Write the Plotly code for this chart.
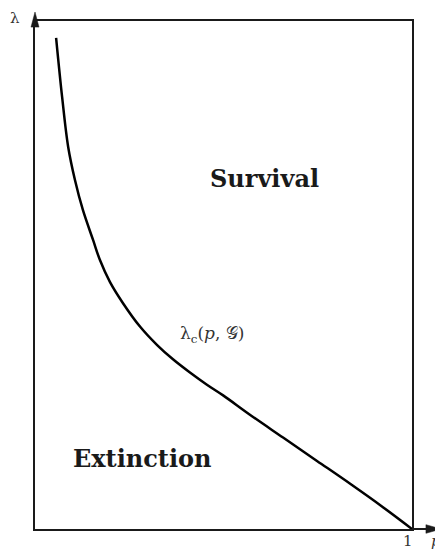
import plotly.graph_objects as go

# critical curve, p on x and lambda on y (both 0..1)
p_vals = [0.056, 0.072, 0.088, 0.106, 0.127, 0.154, 0.172, 0.199, 0.233, 0.279, 0.324,
          0.366, 0.411, 0.456, 0.499, 0.570, 0.658, 0.748, 0.836, 0.923, 1.0]
lam_vals = [0.967, 0.850, 0.752, 0.687, 0.628, 0.569, 0.530, 0.486, 0.445, 0.398, 0.362,
            0.334, 0.308, 0.284, 0.263, 0.225, 0.180, 0.134, 0.089, 0.043, 0.0]

region_names = ['Survival', 'Extinction']
region_x = [0.610, 0.285]
region_y = [0.689, 0.138]

curve_label = 'λ<sub>c</sub>(<i>p</i>, 𝒢)'
x_label = '<i>p</i>'
y_label = 'λ'
x_end_tick = '1'

serif = 'DejaVu Serif, Liberation Serif, serif'
ink = '#1a1a1a'

fig = go.Figure()

fig.add_scatter(x=p_vals, y=lam_vals, mode='lines',
                line=dict(color='black', width=2.5, shape='spline', smoothing=1),
                hoverinfo='skip', showlegend=False)

for name, x, y in zip(region_names, region_x, region_y):
    fig.add_annotation(x=x, y=y, text='<b>' + name + '</b>', showarrow=False,
                       font=dict(family=serif, size=24, color=ink))

fig.add_annotation(x=0.470, y=0.382, text=curve_label, showarrow=False,
                   font=dict(family=serif, size=17, color='#333'))

# axis arrows (outside the frame, so paper coords)
fig.add_shape(type='line', xref='paper', yref='paper', x0=1, y0=0, x1=1.04, y1=0,
              line=dict(color=ink, width=2))
fig.add_shape(type='path', xref='paper', yref='paper',
              path='M 1.077 0 L 1.037 0.0085 L 1.037 -0.0085 Z',
              fillcolor=ink, line=dict(color=ink, width=0.5))
fig.add_shape(type='path', xref='paper', yref='paper',
              path='M 0 1.0177 L -0.0106 0.988 L 0.0106 0.988 Z',
              fillcolor=ink, line=dict(color=ink, width=0.5))

small = dict(showarrow=False, xref='paper', yref='paper', xanchor='center', yanchor='middle',
             font=dict(family=serif, size=15, color='#333'))
fig.add_annotation(x=-0.053, y=1.006, text=y_label, **small)
fig.add_annotation(x=0.989, y=-0.023, text=x_end_tick, **small)
fig.add_annotation(x=1.064, y=-0.023, text=x_label, **small)

fig.update_xaxes(range=[0, 1], showline=True, mirror=True, linecolor=ink, linewidth=1.6,
                 showgrid=False, zeroline=False, showticklabels=False, ticks='')
fig.update_yaxes(range=[0, 1], showline=True, mirror=True, linecolor=ink, linewidth=1.6,
                 showgrid=False, zeroline=False, showticklabels=False, ticks='')

# page body adds 8px, so margins are shifted by that
fig.update_layout(width=443, height=550,
                  margin=dict(l=27, r=39, t=13, b=29),
                  plot_bgcolor='white', paper_bgcolor='white')

fig.write_html("out.html")
